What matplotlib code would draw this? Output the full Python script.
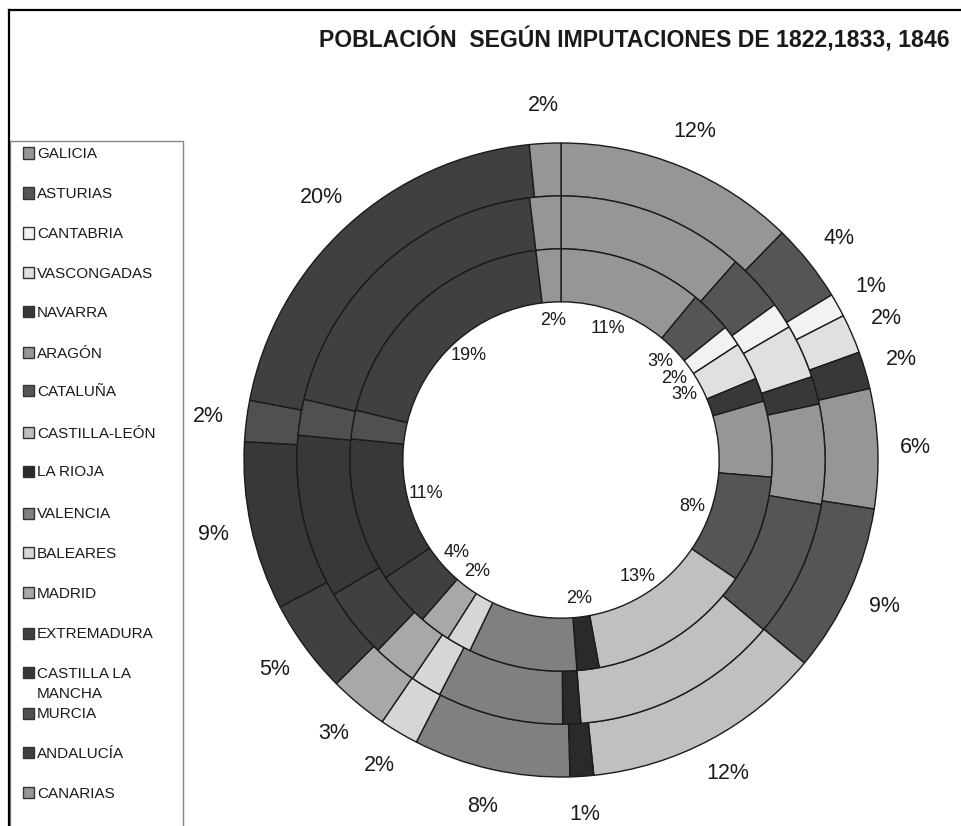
import matplotlib
matplotlib.use("Agg")
import matplotlib.pyplot as plt
import numpy as np
from matplotlib.patches import Rectangle
from matplotlib.lines import Line2D

regions = ["GALICIA", "ASTURIAS", "CANTABRIA", "VASCONGADAS", "NAVARRA", "ARAGÓN",
           "CATALUÑA", "CASTILLA-LEÓN", "LA RIOJA", "VALENCIA", "BALEARES", "MADRID",
           "EXTREMADURA", "CASTILLA LA\nMANCHA", "MURCIA", "ANDALUCÍA", "CANARIAS"]
v1822 = [11.0, 3.2, 1.6, 2.9, 1.8, 5.8, 8.2, 12.6, 1.7, 8.3, 1.9, 2.4, 4.2, 11.0, 2.2, 19.3, 1.9]
v1833 = [11.5, 3.5, 1.6, 3.3, 1.7, 6.1, 8.4, 12.7, 1.1, 7.7, 1.9, 2.7, 4.3, 10.0, 2.2, 19.4, 1.9]
v1846 = [12.3, 4.0, 1.2, 2.0, 1.9, 6.1, 8.6, 12.3, 1.2, 8.0, 2.0, 3.0, 4.8, 8.6, 2.1, 20.4, 1.6]
inner_shown = [1, 1, 1, 1, 0, 0, 1, 1, 1, 0, 0, 1, 1, 1, 0, 1, 1]
colors = ["#969696", "#555555", "#f2f2f2", "#e0e0e0", "#383838", "#969696",
          "#555555", "#c0c0c0", "#2a2a2a", "#808080", "#d6d6d6", "#a8a8a8",
          "#404040", "#383838", "#505050", "#404040", "#969696"]
title = "POBLACIÓN  SEGÚN IMPUTACIONES DE 1822,1833, 1846"

FONT = "Liberation Sans"
W, H = 961, 826
fig = plt.figure(figsize=(W / 100, H / 100), dpi=100)
fig.patch.set_facecolor("white")

cx, cy, R = 561, 460, 317
ax = fig.add_axes([(cx - R) / W, 1 - (cy + R) / H, 2 * R / W, 2 * R / H])
ax.set_aspect("equal")
ax.axis("off")

ring_w = 0.167
radii = [1.0, 1.0 - ring_w, 1.0 - 2 * ring_w]
series = [v1846, v1833, v1822]
for r, vals in zip(radii, series):
    ax.pie(vals, radius=r, colors=colors, startangle=90, counterclock=False,
           wedgeprops=dict(width=ring_w, edgecolor="#1a1a1a", linewidth=1.0))
ax.set_xlim(-1, 1)
ax.set_ylim(-1, 1)

def mid_angles(vals):
    vals = np.asarray(vals, float)
    frac = vals / vals.sum()
    cum = np.cumsum(frac) - frac / 2
    ang = np.deg2rad(90 - 360 * cum)
    return ang, frac * 100

# outer labels (1846)
ang, pct = mid_angles(v1846)
for a, p in zip(ang, pct):
    ax.text(1.12 * np.cos(a), 1.12 * np.sin(a), f"{p:.0f}%", ha="center", va="center",
            fontsize=15.5, family=FONT, color="#1a1a1a", clip_on=False)

# inner labels (1822)
ang, pct = mid_angles(v1822)
for a, p, s in zip(ang, pct, inner_shown):
    if s:
        ax.text(0.44 * np.cos(a), 0.44 * np.sin(a), f"{p:.0f}%", ha="center", va="center",
                fontsize=13, family=FONT, color="#1a1a1a", clip_on=False)

# title
fig.text(950 / W, 1 - 40 / H, title, ha="right", va="center", fontsize=16.6,
         fontweight="bold", family=FONT, color="#1a1a1a")

# frame lines
fig.add_artist(Line2D([9 / W, 1.0], [1 - 10 / H, 1 - 10 / H], transform=fig.transFigure,
                      color="black", lw=1.6))
fig.add_artist(Line2D([9 / W, 9 / W], [0, 1 - 10 / H], transform=fig.transFigure,
                      color="black", lw=1.6))

# legend box
fig.add_artist(Rectangle((10 / W, -0.01), (183 - 10) / W, (826 - 141) / H + 0.01,
                         transform=fig.transFigure, fill=False, edgecolor="#888888", lw=1.0))
row_y = [153, 193, 233, 272, 312, 352, 391, 432, 471, 513, 552, 592, 633, 672, 713, 752, 792]
for name, col, yy in zip(regions, colors, row_y):
    fig.add_artist(Rectangle((23 / W, 1 - (yy + 5.5) / H), 11 / W, 11 / H,
                             transform=fig.transFigure, facecolor=col,
                             edgecolor="#333333", lw=1.0))
    for i, line in enumerate(name.split("\n")):
        fig.text(37 / W, 1 - (yy + 5.5 + 20 * i) / H, line, ha="left", va="baseline",
                 fontsize=11, family=FONT, color="#1a1a1a",
                 transform=fig.transFigure)

fig.savefig("out.png", dpi=100, facecolor="white")
